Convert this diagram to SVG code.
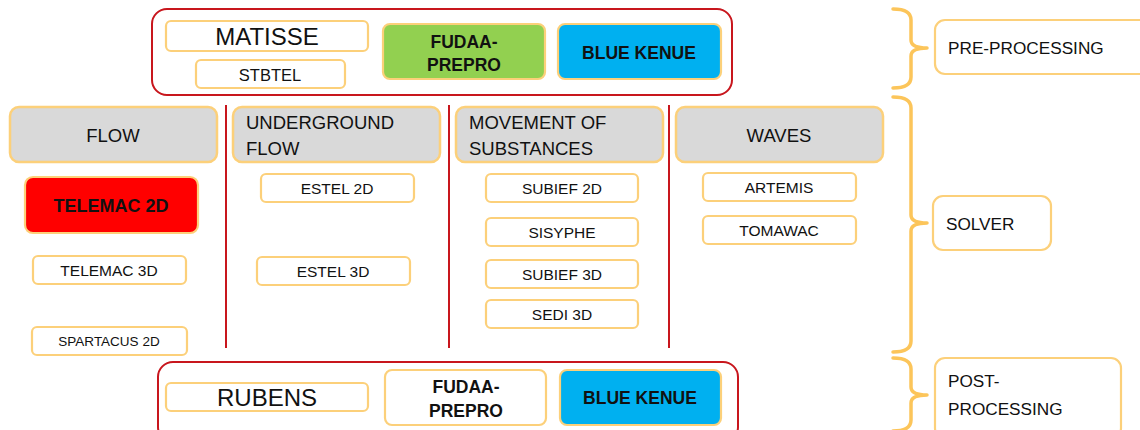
<svg xmlns="http://www.w3.org/2000/svg" width="1140" height="430" viewBox="0 0 1140 430">
<style>
.grp{fill:#fff;stroke:#c8161d;stroke-width:2}
.box{fill:#fff;stroke:#fcd07a;stroke-width:2.2}
.hdr{fill:#d9d9d9;stroke:#fcd07a;stroke-width:2.5}
.t{font-family:"Liberation Sans",Arial,sans-serif;fill:#111;text-anchor:middle}
.tl{font-family:"Liberation Sans",Arial,sans-serif;fill:#111}
.b{font-weight:bold}
.it{font-size:15.5px}
.hd{font-size:18.5px}
.sd{font-size:17.2px}
.brace{fill:none;stroke:#fcc55a;stroke-width:3.5;stroke-linecap:round;stroke-linejoin:round}
.sep{stroke:#c8161d;stroke-width:2}
</style>
<rect width="1140" height="430" fill="#fff"/>
<g id="preproc">
<rect class="grp" x="152" y="9" width="580" height="86" rx="15"/>
</g>
<g id="matisse"><rect class="box" x="166" y="21" width="202" height="30" rx="5"/><text class="t" x="267" y="45" font-size="24">MATISSE</text></g>
<g id="stbtel"><rect class="box" x="196" y="60" width="149" height="28" rx="5"/><text class="t" x="270" y="81" font-size="16.5">STBTEL</text></g>
<g id="fudaa-pre"><rect class="box" x="383" y="24" width="162" height="55" rx="7" style="fill:#92d050"/><text class="t b" x="464" y="48" font-size="17.5">FUDAA-</text><text class="t b" x="464" y="71" font-size="17.5">PREPRO</text></g>
<g id="bluekenue-pre"><rect class="box" x="558" y="24" width="163" height="55" rx="7" style="fill:#00b0f0"/><text class="t b" x="639" y="59" font-size="17.5">BLUE KENUE</text></g>

<g id="connectors">
<line class="sep" x1="226" y1="105" x2="226" y2="348"/>
<line class="sep" x1="449" y1="105" x2="449" y2="348"/>
<line class="sep" x1="669" y1="105" x2="669" y2="348"/>
<path class="brace" d="M893 9 Q911 9 911 20 L911 40 Q911 48 927 48 Q911 48 911 56 L911 77 Q911 88 893 88"/>
<path class="brace" d="M893 97 Q911 97 911 108 L911 215 Q911 223 927 223 Q911 223 911 231 L911 341 Q911 352 893 352"/>
<path class="brace" d="M893 358 Q911 358 911 369 L911 387 Q911 395 927 395 Q911 395 911 403 L911 420 Q911 431 893 431"/>
</g>

<g id="flow"><rect class="hdr" x="10" y="107" width="207" height="55" rx="9"/><text class="t hd" x="113" y="142">FLOW</text></g>
<g id="underground"><rect class="hdr" x="233" y="107" width="207" height="55" rx="9"/><text class="tl hd" x="246" y="129">UNDERGROUND</text><text class="tl hd" x="246" y="155">FLOW</text></g>
<g id="movement"><rect class="hdr" x="456" y="107" width="207" height="55" rx="9"/><text class="tl hd" x="469" y="129">MOVEMENT OF</text><text class="tl hd" x="469" y="155">SUBSTANCES</text></g>
<g id="waves"><rect class="hdr" x="676" y="107" width="207" height="55" rx="9"/><text class="t hd" x="779" y="142">WAVES</text></g>

<g id="telemac2d"><rect class="box" x="25" y="177" width="173" height="56" rx="8" style="fill:#ff0000"/><text class="t b" x="111" y="212" font-size="18">TELEMAC 2D</text></g>
<g id="telemac3d"><rect class="box" x="33" y="256" width="153" height="28" rx="5"/><text class="t it" x="109" y="276">TELEMAC 3D</text></g>
<g id="spartacus2d"><rect class="box" x="32" y="327" width="155" height="28" rx="5"/><text class="t" x="109" y="346" font-size="13.5">SPARTACUS 2D</text></g>
<g id="estel2d"><rect class="box" x="261" y="174" width="153" height="28" rx="5"/><text class="t it" x="337" y="194">ESTEL 2D</text></g>
<g id="estel3d"><rect class="box" x="257" y="257" width="153" height="28" rx="5"/><text class="t it" x="333" y="277">ESTEL 3D</text></g>
<g id="subief2d"><rect class="box" x="486" y="174" width="152" height="28" rx="5"/><text class="t it" x="562" y="194">SUBIEF 2D</text></g>
<g id="sisyphe"><rect class="box" x="486" y="218" width="152" height="28" rx="5"/><text class="t it" x="562" y="238">SISYPHE</text></g>
<g id="subief3d"><rect class="box" x="486" y="260" width="152" height="28" rx="5"/><text class="t it" x="562" y="280">SUBIEF 3D</text></g>
<g id="sedi3d"><rect class="box" x="486" y="300" width="152" height="28" rx="5"/><text class="t it" x="562" y="320">SEDI 3D</text></g>
<g id="artemis"><rect class="box" x="703" y="173" width="153" height="28" rx="5"/><text class="t it" x="779" y="193">ARTEMIS</text></g>
<g id="tomawac"><rect class="box" x="703" y="216" width="153" height="28" rx="5"/><text class="t it" x="779" y="236">TOMAWAC</text></g>

<g id="postproc"><rect class="grp" x="158" y="362" width="580" height="80" rx="15"/></g>
<g id="rubens"><rect class="box" x="166" y="383" width="202" height="28" rx="5"/><text class="t" x="267" y="406" font-size="24">RUBENS</text></g>
<g id="fudaa-post"><rect class="box" x="385" y="370" width="161" height="55" rx="7"/><text class="t b" x="466" y="393" font-size="17.5">FUDAA-</text><text class="t b" x="466" y="417" font-size="17.5">PREPRO</text></g>
<g id="bluekenue-post"><rect class="box" x="560" y="370" width="161" height="55" rx="7" style="fill:#00b0f0"/><text class="t b" x="640" y="404" font-size="17.5">BLUE KENUE</text></g>

<g id="lbl-pre"><rect class="box" x="935" y="20" width="215" height="54" rx="10"/><text class="tl sd" x="948" y="54">PRE-PROCESSING</text></g>
<g id="lbl-solver"><rect class="box" x="933" y="196" width="118" height="54" rx="10"/><text class="tl sd" x="946" y="230">SOLVER</text></g>
<g id="lbl-post"><rect class="box" x="935" y="358" width="186" height="80" rx="10"/><text class="tl sd" x="948" y="387">POST-</text><text class="tl sd" x="948" y="415">PROCESSING</text></g>
</svg>
